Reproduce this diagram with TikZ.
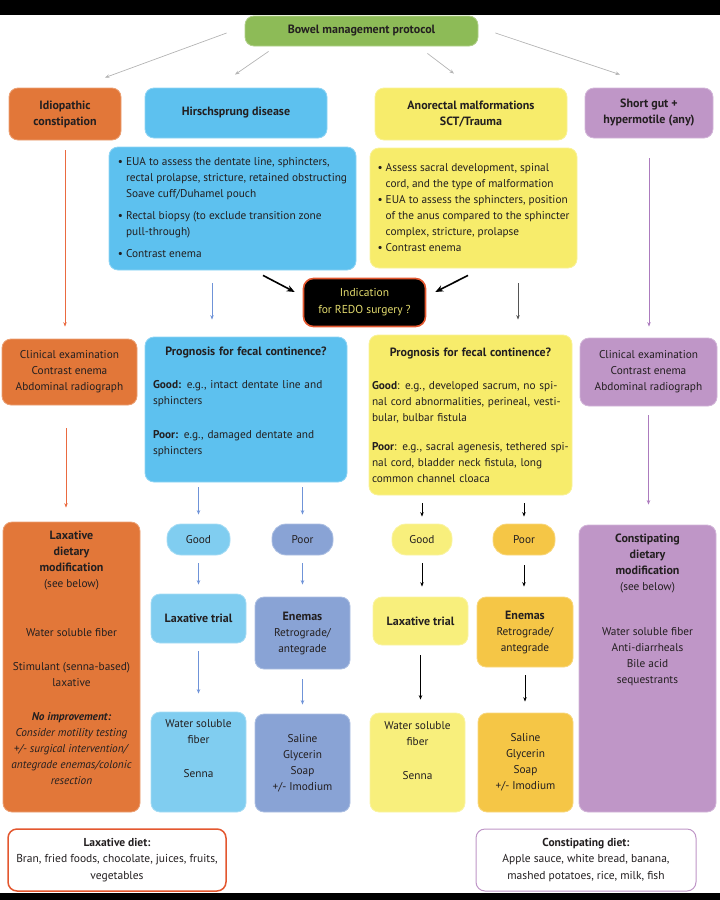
\documentclass[tikz,border=0pt]{standalone}
\usepackage{fontspec}
\setmainfont{PT Sans}
\usetikzlibrary{arrows.meta}

\definecolor{bmgreen}{HTML}{8DBB57}
\definecolor{bmorange}{HTML}{E27739}
\definecolor{bmblue}{HTML}{5DC1EF}
\definecolor{bmlightblue}{HTML}{80CDF0}
\definecolor{bmslate}{HTML}{89A3D5}
\definecolor{bmyellow}{HTML}{F7EC6B}
\definecolor{bmlightyellow}{HTML}{F8EF7C}
\definecolor{bmgold}{HTML}{F5C646}
\definecolor{bmpurple}{HTML}{BF96C7}
\definecolor{bmred}{HTML}{E3572F}
\definecolor{bmtext}{HTML}{231F20}
\definecolor{bmredo}{HTML}{E4DC6E}
\definecolor{bmgray}{HTML}{B4B4B4}
\definecolor{bmorangeline}{HTML}{EA6A40}
\definecolor{bmblueline}{HTML}{6F93D8}
\definecolor{bmpurpleline}{HTML}{AC7BBE}
\definecolor{bmdark}{HTML}{555555}

% invisible depth to push the text of a box upwards
\newcommand\liftup[1]{\rule[-#1]{0pt}{#1}}
% bold heading inside a box
\newcommand\hd[1]{{\bfseries\fontsize{12}{16}\selectfont #1}}

\tikzset{
  box/.style={rectangle, rounded corners=9pt, fill=#1, draw=#1!70!white, line width=0.8pt,
    align=center, text=bmtext, inner sep=3pt, font=\fontsize{11.3}{16}\selectfont},
  pill/.style={box=#1, rounded corners=14pt},
  head/.style={font=\bfseries\fontsize{12}{16}\selectfont},
  flow/.style={draw=#1, line width=0.7pt, -{Stealth[length=4.5pt,width=3.5pt]}},
  thickflow/.style={draw=black, line width=1.6pt, -{Stealth[length=8pt,width=6.5pt]}}
}

\begin{document}
\begin{tikzpicture}[x=1pt, y=-1pt]
% Frame
\useasboundingbox (0,0) rectangle (720,900);
\fill[black] (0,0) rectangle (720,15);
\fill[black] (0,893) rectangle (720,900);

% Nodes
\node[box=bmgreen, head, minimum width=233pt, minimum height=30pt] (top) at (361.5,31) {Bowel management protocol};

\node[box=bmorange, head, minimum width=112pt, minimum height=52pt] (idio) at (65,114) {Idiopathic\\constipation};
\node[box=bmblue, head, minimum width=182pt, minimum height=50pt] (hirsch) at (236,113) {Hirschsprung disease};
\node[box=bmyellow, head, minimum width=192pt, minimum height=52pt] (arm) at (471,114) {Anorectal malformations\\SCT/Trauma};
\node[box=bmpurple, head, minimum width=128pt, minimum height=50pt] (short) at (649,113) {Short gut +\\hypermotile (any)};

\node[box=bmblue, minimum width=247pt, minimum height=123pt] (hdet) at (232.5,208.5) {%
  \begin{tabular}{@{}l@{\hspace{3pt}}l@{}}
  • & EUA to assess the dentate line, sphincters,\\
    & rectal prolapse, stricture, retained obstructing\\
    & Soave cuff/Duhamel pouch\\[6pt]
  • & Rectal biopsy (to exclude transition zone\\
    & pull-through)\\[6pt]
  • & Contrast enema
  \end{tabular}};
\node[box=bmyellow, minimum width=207pt, minimum height=120pt] (adet) at (473.5,208) {%
  \begin{tabular}{@{}l@{\hspace{3pt}}l@{}}
  • & Assess sacral development, spinal\\
    & cord, and the type of malformation\\
  • & EUA to assess the sphincters, position\\
    & of the anus compared to the sphincter\\
    & complex, stricture, prolapse\\
  • & Contrast enema
  \end{tabular}};

\node[box=black, draw=bmred, line width=1.6pt, text=bmredo, rounded corners=10pt, minimum width=122pt, minimum height=48pt,
  font=\fontsize{11.5}{17}\selectfont] (redo) at (364.5,302.5) {Indication\\for REDO surgery ?};

\node[box=bmorange, minimum width=135pt, minimum height=66pt] (iclin) at (69.5,372) {Clinical examination\\Contrast enema\\Abdominal radiograph};
\node[box=bmblue, minimum width=202pt, minimum height=145pt, text width=186pt, inner xsep=8pt, align=left] (hprog) at (246,409.5) {%
  \makebox[186pt]{\hd{Prognosis for fecal continence?}}\\[17pt]
  \textbf{Good:} e.g., intact dentate line and\\
  sphincters\\[18pt]
  \textbf{Poor:} e.g., damaged dentate and\\
  sphincters\liftup{18pt}};
\node[box=bmyellow, minimum width=203pt, minimum height=160pt, text width=201pt, inner xsep=1pt, align=left] (aprog) at (470.5,415) {%
  \makebox[201pt]{\hd{Prognosis for fecal continence?}}\\[17pt]
  \hspace{2pt}\textbf{Good}: e.g., developed sacrum, no spi-\\
  \hspace{2pt}nal cord abnormalities, perineal, vesti-\\
  \hspace{2pt}bular, bulbar fistula\\[13pt]
  \hspace{2pt}\textbf{Poor}: e.g., sacral agenesis, tethered spi-\\
  \hspace{2pt}nal cord, bladder neck fistula, long\\
  \hspace{2pt}common channel cloaca};
\node[box=bmpurple, minimum width=137pt, minimum height=68pt] (sclin) at (648.5,372) {Clinical examination\\Contrast enema\\Abdominal radiograph};

\node[box=bmorange, minimum width=137pt, minimum height=290pt] (ilax) at (71.5,667) {%
  \hd{Laxative}\\ \hd{dietary}\\ \hd{modification}\\ (see below)\\[33pt]
  Water soluble fiber\\[18pt]
  Stimulant (senna-based)\\ laxative\\[18pt]
  \textbf{\textit{No improvement:}}\\
  \textit{Consider motility testing}\\
  \textit{+/- surgical intervention/}\\
  \textit{antegrade enemas/colonic}\\
  \textit{resection}\liftup{18pt}};

\node[pill=bmlightblue, minimum width=63pt, minimum height=31pt] (hgood) at (198.5,539.5) {Good};
\node[pill=bmslate, minimum width=61pt, minimum height=31pt] (hpoor) at (302.5,539.5) {Poor};
\node[box=bmlightblue, head, minimum width=95pt, minimum height=49pt] (htrial) at (198.5,618.5) {Laxative trial};
\node[box=bmslate, minimum width=95pt, minimum height=72pt] (henema) at (302.5,633) {\hd{Enemas}\\Retrograde/\\antegrade};
\node[box=bmlightblue, minimum width=95pt, minimum height=100pt] (hfiber) at (198.5,762) {Water soluble\\fiber\\[18pt]Senna\liftup{27pt}};
\node[box=bmslate, minimum width=95pt, minimum height=98pt] (hsaline) at (302.5,763) {Saline\\Glycerin\\Soap\\+/- Imodium};

\node[pill=bmlightyellow, minimum width=60pt, minimum height=31pt] (agood) at (422,539.5) {Good};
\node[pill=bmgold, minimum width=62pt, minimum height=31pt] (apoor) at (524,539.5) {Poor};
\node[box=bmlightyellow, head, minimum width=95pt, minimum height=48pt] (atrial) at (420.5,621) {Laxative trial};
\node[box=bmgold, minimum width=96pt, minimum height=70pt] (aenema) at (525,632) {\hd{Enemas}\\Retrograde/\\antegrade};
\node[box=bmlightyellow, minimum width=95pt, minimum height=99pt] (afiber) at (417.5,762.5) {Water soluble\\fiber\\[18pt]Senna\liftup{24pt}};
\node[box=bmgold, minimum width=95pt, minimum height=99pt] (asaline) at (525.5,762.5) {Saline\\Glycerin\\Soap\\+/- Imodium};

\node[box=bmpurple, minimum width=137pt, minimum height=287pt] (sdiet) at (647.5,668.5) {%
  \hd{Constipating}\\ \hd{dietary}\\ \hd{modification}\\ (see below)\\[29pt]
  Water soluble fiber\\ Anti-diarrheals\\ Bile acid\\ sequestrants\liftup{120pt}};

\node[box=white, draw=bmred, line width=1.5pt, minimum width=218pt, minimum height=62pt,
  font=\fontsize{11.5}{16.5}\selectfont] (laxdiet) at (117,860) {%
  \textbf{Laxative diet:}\\Bran, fried foods, chocolate, juices, fruits,\\vegetables};
\node[box=white, draw=bmpurple, line width=1pt, minimum width=220pt, minimum height=62pt,
  font=\fontsize{11.5}{16.5}\selectfont] (condiet) at (586,860) {%
  \textbf{Constipating diet:}\\Apple sauce, white bread, banana,\\mashed potatoes, rice, milk, fish};

% Edges
\draw[flow=bmgray] ([xshift=-18pt,yshift=-2pt]top.west) -- ([xshift=40pt,yshift=10pt]idio.north);
\draw[flow=bmgray] ([xshift=24pt,yshift=-5pt]top.south west) -- ([xshift=-1pt,yshift=13pt]hirsch.north);
\draw[flow=bmgray] ([xshift=-51pt,yshift=-7pt]top.south east) -- ([xshift=-17pt,yshift=14pt]arm.north);
\draw[flow=bmgray] ([xshift=17pt,yshift=-2pt]top.east) -- ([xshift=-29pt,yshift=13pt]short.north);

\draw[flow=bmorangeline, shorten <=10pt, shorten >=12pt] (idio.south) -- (idio.south |- iclin.north);
\draw[flow=bmpurpleline, shorten <=20pt, shorten >=11pt] (short.south) -- (short.south |- sclin.north);

\coordinate (hdetout) at ([xshift=-20.5pt]hdet.south);
\coordinate (adetout) at ([xshift=44.5pt]adet.south);
\draw[flow=bmblueline, shorten <=13pt, shorten >=17pt] (hdetout) -- (hdetout |- hprog.north);
\draw[flow=bmdark, shorten <=15pt, shorten >=15pt] (adetout) -- (adetout |- aprog.north);
\draw[thickflow] ([xshift=30.5pt,yshift=-5pt]hdet.south) -- ([xshift=-8pt,yshift=10.5pt]redo.west);
\draw[thickflow] ([xshift=-5.5pt,yshift=-7pt]adet.south) -- ([xshift=9pt,yshift=10.5pt]redo.east);

\draw[flow=bmorangeline, shorten <=23pt, shorten >=14pt] ([xshift=-3.5pt]iclin.south) -- ([xshift=-5.5pt]ilax.north);
\draw[flow=bmpurpleline, shorten <=9pt, shorten >=20pt] (sclin.south) -- (sclin.south |- sdiet.north);

\draw[flow=bmblueline, shorten <=5pt, shorten >=9pt] (hgood.north |- hprog.south) -- (hgood.north);
\draw[flow=bmblueline, shorten <=5pt, shorten >=9pt] (hpoor.north |- hprog.south) -- (hpoor.north);
\draw[flow=black, shorten <=8pt, shorten >=7pt] (agood.north |- aprog.south) -- (agood.north);
\draw[flow=black, shorten <=8pt, shorten >=7pt] (apoor.north |- aprog.south) -- (apoor.north);

\draw[flow=bmblueline, shorten <=8pt, shorten >=9pt] (hgood.south) -- (htrial.north);
\draw[flow=bmblueline, shorten <=8pt, shorten >=12pt] (hpoor.south) -- (henema.north);
\draw[flow=black, shorten <=8pt, shorten >=10pt] (agood.south) -- (agood.south |- atrial.north);
\draw[flow=black, shorten <=10pt, shorten >=10pt] (apoor.south) -- (apoor.south |- aenema.north);

\draw[flow=bmblueline, shorten <=8pt, shorten >=18pt] (htrial.south) -- (hfiber.north);
\draw[flow=bmblueline, shorten <=10pt, shorten >=9pt] (henema.south) -- (hsaline.north);
\draw[flow=black, shorten <=10pt, shorten >=13pt] (atrial.south) -- (atrial.south |- afiber.north);
\draw[flow=black, shorten <=8pt, shorten >=11pt] (aenema.south) -- (aenema.south |- asaline.north);
\end{tikzpicture}
\end{document}
